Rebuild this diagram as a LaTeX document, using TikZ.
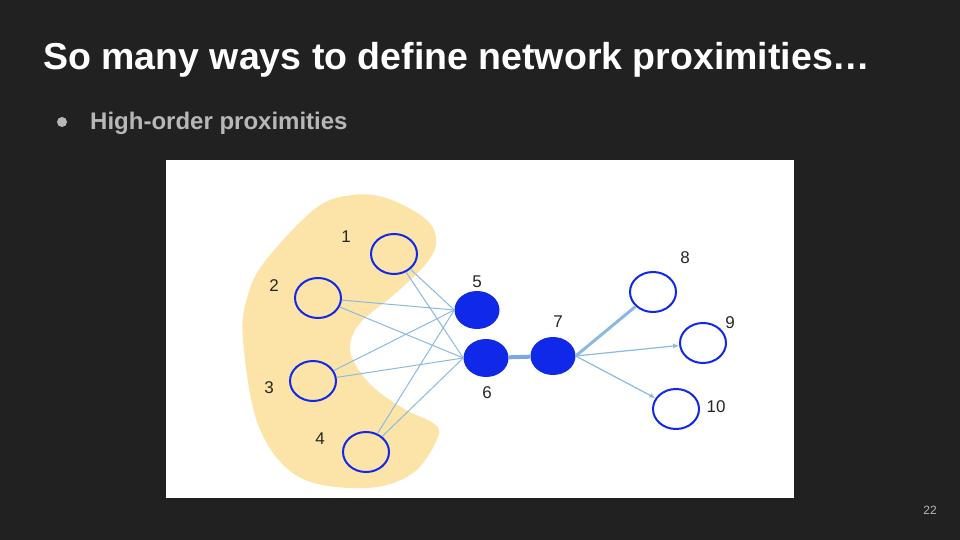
\documentclass[tikz,border=0pt]{standalone}
\usepackage{fontspec}
\setmainfont{Liberation Sans}
\usetikzlibrary{arrows.meta,shapes.geometric,positioning}
\definecolor{slidebg}{RGB}{33,33,33}
\definecolor{subgray}{RGB}{183,183,183}
\definecolor{blobyellow}{RGB}{252,228,168}
\definecolor{nodeblue}{RGB}{16,40,232}
\definecolor{linkblue}{RGB}{138,186,226}
\tikzset{
  opennode/.style={ellipse, draw=nodeblue, line width=2pt, minimum width=46pt, minimum height=40pt, inner sep=0pt},
  fullnode/.style={ellipse, fill=nodeblue, minimum width=45pt, minimum height=38pt, inner sep=0pt},
  link/.style={linkblue, line width=1pt},
  heavylink/.style={linkblue!90!blue, line width=4pt},
  arrowlink/.style={-{Latex[length=6pt,width=5pt]}, linkblue, line width=1.2pt},
  numlabel/.style={font=\fontsize{17}{17}\selectfont, text=black!85},
  slidetitle/.style={font=\fontsize{37.5}{38}\bfseries\selectfont, text=white, anchor=base west, inner sep=0pt}
}
\begin{document}
\begin{tikzpicture}[x=1pt,y=-1pt]
  \fill[slidebg] (0,0) rectangle (960,540);
  \useasboundingbox (0,0) rectangle (960,540);
  \node[slidetitle] (title) at (43,70) {So many ways to define network proximities…};
  \fill[subgray] (62,122) circle (5);
  \node[font=\fontsize{24}{24}\bfseries\selectfont, text=subgray, anchor=base west, inner sep=0pt] (sub) at (90,130) {High-order proximities};
  \node[font=\fontsize{12}{12}\selectfont, text=subgray] (page) at (930,510) {22};
  % figure
  \fill[white] (166,160) rectangle (794,498);
  \fill[blobyellow] plot[smooth cycle, tension=0.6] coordinates {
    (353,195) (386,198) (423,217) (436,237) (429,260) (396,293) (363,320) (351,340)
    (353,360) (373,387) (406,410) (433,423) (438,437) (413,473) (366,488) (299,477)
    (259,427) (243,340) (248,295) (266,260) (316,208)};
  \node[opennode] (n1) at (394,254) {};
  \node[opennode] (n2) at (318,298) {};
  \node[opennode] (n3) at (313,381) {};
  \node[opennode] (n4) at (366,452) {};
  \node[fullnode] (n5) at (477,310) {};
  \node[fullnode] (n6) at (486,358) {};
  \node[fullnode] (n7) at (553,356) {};
  \node[opennode] (n8) at (653,292) {};
  \node[opennode] (n9) at (703,343) {};
  \node[opennode] (n10) at (676,409) {};
  \foreach \s in {n1,n2,n3,n4}{
    \draw[link] (\s) -- (n5.west);
    \draw[link] (\s) -- (n6.west);
  }
  \draw[heavylink] (n6) -- (n7);
  \draw[linkblue, line width=3pt] (n7.east) -- (n8);
  \draw[arrowlink] (n7.east) -- (n9);
  \draw[arrowlink] (n7.east) -- (n10);
  \node[numlabel] (l1) at (346,237) {1};
  \node[numlabel] (l2) at (274,286) {2};
  \node[numlabel] (l3) at (269,388) {3};
  \node[numlabel] (l4) at (320,439) {4};
  \node[numlabel] (l5) at (477,282) {5};
  \node[numlabel] (l6) at (487,393) {6};
  \node[numlabel] (l7) at (558,322) {7};
  \node[numlabel] (l8) at (685,258) {8};
  \node[numlabel] (l9) at (730,323) {9};
  \node[numlabel] (l10) at (716,407) {10};
\end{tikzpicture}
\end{document}
